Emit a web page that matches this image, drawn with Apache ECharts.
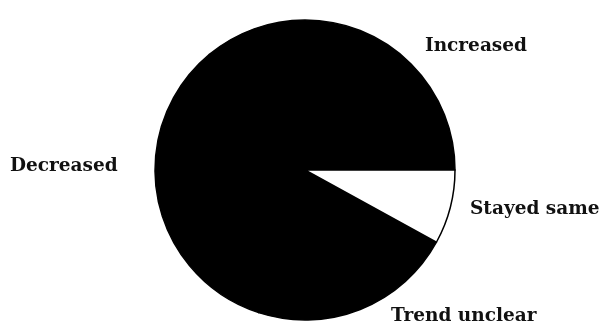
<!DOCTYPE html>
<html>
<head>
<meta charset="utf-8">
<script src="https://cdn.jsdelivr.net/npm/echarts@6/dist/echarts.min.js"></script>
<style>
  html, body { margin: 0; padding: 0; background: #fff; }
  #chart { width: 610px; height: 331px; }
</style>
</head>
<body>
<div id="chart"></div>
<script>
  // categories, counter-clockwise from 3 o'clock
  var categories = ['Increased', 'Decreased', 'Trend unclear', 'Stayed same'];
  var shares = [36, 34, 22, 8];
  var fills = ['#000', '#000', '#000', '#fff'];

  // label anchor spots (left edge, vertical middle)
  var labelSpots = [[425, 46], [10, 166], [391, 316], [470, 209]];

  var chart = echarts.init(document.getElementById('chart'));

  chart.setOption({
    backgroundColor: '#fff',
    animation: false,
    series: [{
      type: 'pie',
      center: [305, 170],
      radius: 150,
      startAngle: 0,
      clockwise: false,
      avoidLabelOverlap: false,
      data: categories.map(function (c, i) {
        return { name: c, value: shares[i], itemStyle: { color: fills[i] } };
      }),
      itemStyle: { borderColor: '#000', borderWidth: 1.5 },
      label: {
        show: true,
        formatter: '{b}',
        fontFamily: 'DejaVu Serif',
        fontWeight: 'bold',
        fontSize: 18.5,
        color: '#111'
      },
      labelLine: { show: false },
      labelLayout: function (p) {
        var s = labelSpots[p.dataIndex];
        return { x: s[0], y: s[1], align: 'left', verticalAlign: 'middle' };
      },
      emphasis: { disabled: true }
    }]
  });
</script>
</body>
</html>
